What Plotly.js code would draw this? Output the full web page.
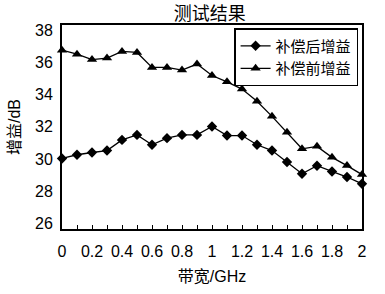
<!DOCTYPE html>
<html>
<head>
<meta charset="utf-8">
<script src="https://cdn.plot.ly/plotly-3.0.1.min.js"></script>
<style>html,body{margin:0;padding:0;background:#fff;}#chart{width:385px;height:294px;}</style>
</head>
<body>
<div id="chart"></div>
<script>
const bandwidth = [0, 0.1, 0.2, 0.3, 0.4, 0.5, 0.6, 0.7, 0.8, 0.9, 1.0, 1.1, 1.2, 1.3, 1.4, 1.5, 1.6, 1.7, 1.8, 1.9, 2.0];
const gainAfter = [30.04, 30.27, 30.41, 30.53, 31.19, 31.5, 30.89, 31.3, 31.5, 31.5, 32.02, 31.46, 31.46, 30.89, 30.53, 29.82, 29.09, 29.59, 29.23, 28.89, 28.47];
const gainBefore = [36.75, 36.5, 36.17, 36.26, 36.67, 36.61, 35.68, 35.68, 35.52, 35.89, 35.18, 34.79, 34.34, 33.59, 32.65, 31.66, 30.64, 30.79, 30.11, 29.6, 29.04];
const xTickVals = [0, 0.2, 0.4, 0.6, 0.8, 1, 1.2, 1.4, 1.6, 1.8, 2];
const xTickText = ['0', '0.2', '0.4', '0.6', '0.8', '1', '1.2', '1.4', '1.6', '1.8', '2'];
const yTickVals = [26, 28, 30, 32, 34, 36, 38];
const seriesNames = ['补偿后增益', '补偿前增益'];

const FONT = 'Liberation Sans, Arial, Noto Sans CJK SC, sans-serif';

const traces = [
  {x: bandwidth, y: gainAfter, name: seriesNames[0], mode: 'lines+markers', type: 'scatter',
   line: {color: '#000', width: 1.3}, marker: {symbol: 'diamond', size: 8, color: '#000'}, cliponaxis: false},
  {x: bandwidth, y: gainBefore, name: seriesNames[1], mode: 'lines+markers', type: 'scatter',
   line: {color: '#000', width: 1.3}, marker: {symbol: 'triangle-up', size: 9, color: '#000'}, cliponaxis: false}
];

const layout = {
  width: 385, height: 294,
  margin: {l: 62, r: 23, t: 25, b: 65},
  paper_bgcolor: '#fff', plot_bgcolor: '#fff',
  font: {family: FONT, size: 16, color: '#000'},
  title: {text: '测试结果', font: {family: FONT, size: 18, color: '#000'}, x: 0.545, xanchor: 'center', y: 0.955, yanchor: 'middle'},
  showlegend: true,
  legend: {x: 0.987, xanchor: 'right', y: 0.985, yanchor: 'top', bgcolor: '#fff', bordercolor: '#000', borderwidth: 1.5,
           font: {family: FONT, size: 15, color: '#000'}, tracegroupgap: 0, itemwidth: 30},
  xaxis: {range: [0, 2], tickvals: xTickVals, ticktext: xTickText, ticks: 'inside', ticklen: 4, tickcolor: '#000', tickwidth: 1,
          minor: {dtick: 0.1, ticks: 'inside', ticklen: 4, tickcolor: '#000', tickwidth: 1},
          showgrid: false, zeroline: false, showline: true, linecolor: '#000', linewidth: 2, mirror: true,
          tickfont: {family: FONT, size: 16, color: '#000'}, ticklabelstandoff: 7,
          title: {text: '带宽/GHz', font: {family: FONT, size: 16, color: '#000'}, standoff: 12}},
  yaxis: {range: [25.67, 38.31], tickvals: yTickVals, ticks: '', showgrid: false, zeroline: false,
          showline: true, linecolor: '#000', linewidth: 2, mirror: true,
          tickfont: {family: FONT, size: 16, color: '#000'}, ticklabelstandoff: 4,
          title: {text: '增益/dB', font: {family: FONT, size: 16, color: '#000'}, standoff: 10}}
};

Plotly.newPlot('chart', traces, layout, {displayModeBar: false, staticPlot: true});
</script>
</body>
</html>
